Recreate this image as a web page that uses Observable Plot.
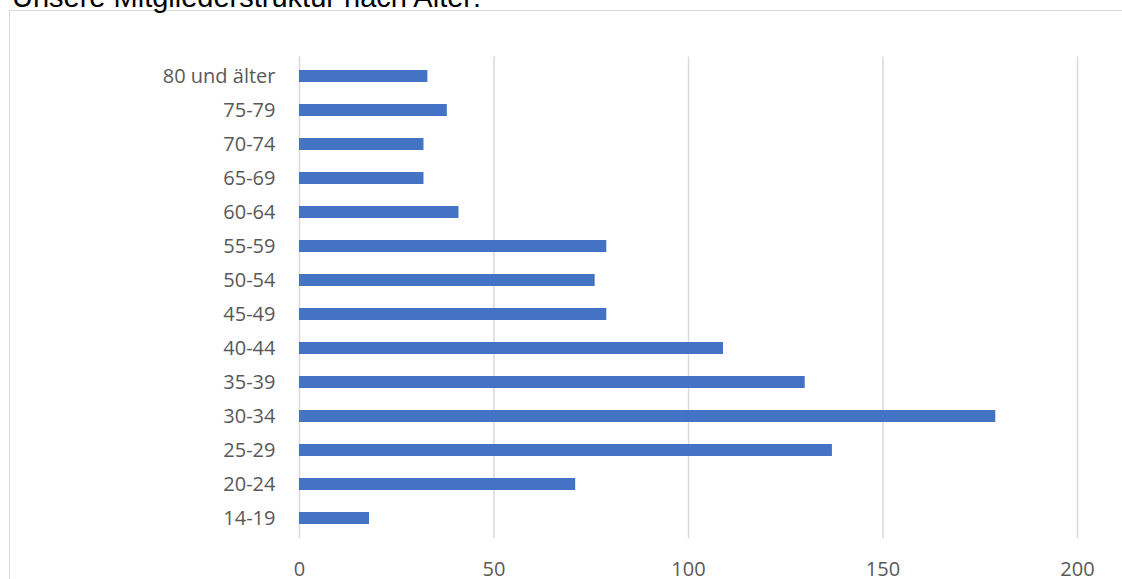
<!DOCTYPE html>
<html>
<head>
<meta charset="utf-8">
<script src="https://cdn.jsdelivr.net/npm/d3@7"></script>
<script src="https://cdn.jsdelivr.net/npm/@observablehq/plot@0.6"></script>
<style>
  html, body { margin: 0; padding: 0; background: #fff; overflow: hidden; }
  #wrap { position: relative; width: 1122px; height: 579px; overflow: hidden; }
  #title { position: absolute; left: 12px; top: -17px; font-family: "Liberation Sans", Arial, sans-serif; font-size: 29px; line-height: 29px; color: #000; white-space: nowrap; }
  #frame { position: absolute; left: 9px; top: 10px; width: 1200px; height: 700px; border-left: 1.5px solid #d9d9d9; border-top: 1.5px solid #d9d9d9; }
  #chart { position: absolute; left: 0; top: 0; }
</style>
</head>
<body>
<div id="wrap">
  <div id="frame"></div>
  <div id="title">Unsere Mitgliederstruktur nach Alter:</div>
  <div id="chart"></div>
</div>
<script>
const categories = ["14-19", "20-24", "25-29", "30-34", "35-39", "40-44", "45-49", "50-54", "55-59", "60-64", "65-69", "70-74", "75-79", "80 und älter"];
const values = [18, 71, 137, 179, 130, 109, 79, 76, 79, 41, 32, 32, 38, 33];
const xTicks = [0, 50, 100, 150, 200];

const data = categories.map((c, i) => ({ age: c, count: values[i] }));

const chart = Plot.plot({
  width: 1122,
  height: 579,
  marginLeft: 299,
  marginRight: 45,
  marginTop: 56.5,
  marginBottom: 40.7,
  style: { fontFamily: "'Open Sans', sans-serif", fontSize: "20px", color: "#595959", background: "transparent" },
  x: { domain: [0, 200], ticks: xTicks, label: null },
  y: { domain: categories.slice().reverse(), paddingInner: 0.64, paddingOuter: 0.32, label: null },
  marks: [
    Plot.gridX(xTicks, { stroke: "#d9d9d9", strokeOpacity: 1, strokeWidth: 1.5 }),
    Plot.barX(data, { x: "count", y: "age", fill: "#4472c4" }),
    Plot.axisX({ ticks: xTicks, tickSize: 0, tickPadding: 23, fill: "#595959", fontSize: 20, label: null }),
    Plot.axisY({ tickSize: 0, tickPadding: 24, fill: "#595959", fontSize: 20, label: null })
  ]
});
document.getElementById("chart").appendChild(chart);
</script>
</body>
</html>
